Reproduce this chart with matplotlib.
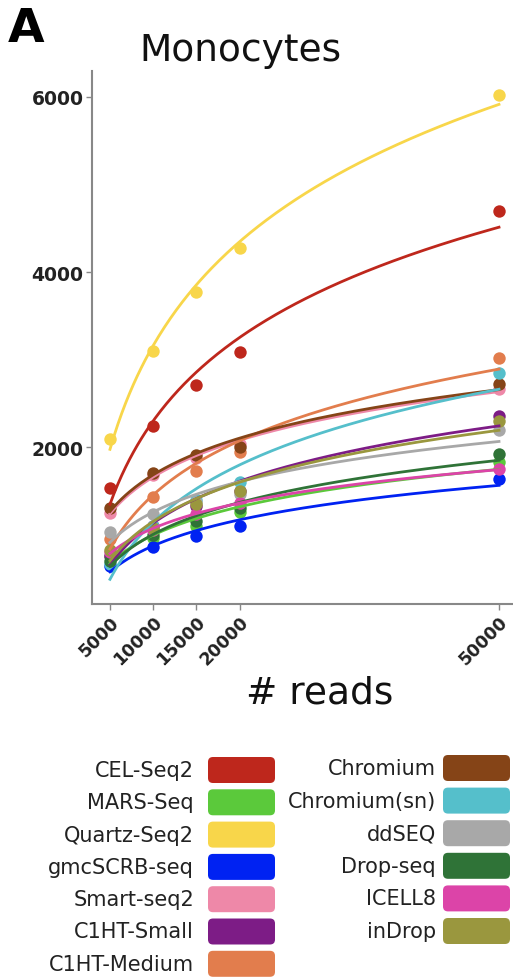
import numpy as np
import matplotlib.pyplot as plt
from matplotlib.patches import FancyBboxPatch

# reads per cell (x) and detected genes (y)
reads = [5000, 10000, 15000, 20000, 50000]

methods = ['CEL-Seq2', 'MARS-Seq', 'Quartz-Seq2', 'gmcSCRB-seq', 'Smart-seq2',
           'C1HT-Small', 'C1HT-Medium', 'Chromium', 'Chromium(sn)', 'ddSEQ',
           'Drop-seq', 'ICELL8', 'inDrop']
colors = ['#BE271C', '#5BC93B', '#F8D64A', '#0022F2', '#EE88A8',
          '#7D1C86', '#E27D4D', '#854417', '#55BFCB', '#A8A8A8',
          '#2F7337', '#DC44A8', '#9A973E']

cel_seq2 = [1530, 2240, 2710, 3085, 4700]
mars_seq = [760, 960, 1100, 1260, 1830]
quartz_seq2 = [2090, 3100, 3770, 4270, 6020]
gmcscrb_seq = [640, 860, 985, 1100, 1635]
smart_seq2 = [1250, 1680, 1880, 2040, 2660]
c1ht_small = [760, 1100, 1330, 1500, 2355]
c1ht_medium = [950, 1430, 1725, 1940, 3020]
chromium = [1300, 1700, 1910, 2000, 2720]
chromium_sn = [660, 1100, 1400, 1600, 2850]
ddseq = [1030, 1235, 1370, 1460, 2200]
drop_seq = [700, 1000, 1150, 1300, 1920]
icell8 = [800, 1050, 1235, 1360, 1750]
indrop = [820, 1080, 1350, 1500, 2300]

genes = [cel_seq2, mars_seq, quartz_seq2, gmcscrb_seq, smart_seq2, c1ht_small,
         c1ht_medium, chromium, chromium_sn, ddseq, drop_seq, icell8, indrop]

W, H = 513, 979
fig = plt.figure(figsize=(W / 100, H / 100), dpi=100)
ax = fig.add_axes([92 / W, 1 - 605 / H, (W - 92) / W, (605 - 72) / H])

x = np.array(reads, dtype=float)
xs = np.linspace(x.min(), x.max(), 200)
for y, c in zip(genes, colors):
    y = np.array(y, dtype=float)
    b, a = np.polyfit(np.log(x), y, 1)  # y ~ log(x) fit
    ax.scatter(x, y, s=80, color=c, zorder=2, linewidths=0)
    ax.plot(xs, a + b * np.log(xs), color=c, lw=2.0, zorder=3)

ax.set_xlim(2920, 51620)
ax.set_ylim(206, 6297)
ax.set_xticks(reads)
ax.set_yticks([2000, 4000, 6000])
ax.set_xticklabels([str(r) for r in reads], rotation=45, ha='right', va='top',
                   rotation_mode='anchor', fontsize=12.5, fontweight='bold', color='#222222')
ax.set_yticklabels(['2000', '4000', '6000'], fontsize=13.5, fontweight='bold', color='#222222')
ax.tick_params(length=4, width=1, color='#888888', pad=2)
for s in ['top', 'right']:
    ax.spines[s].set_visible(False)
for s in ['left', 'bottom']:
    ax.spines[s].set_color('#888888')
    ax.spines[s].set_linewidth(1.5)

fig.text(240 / W, 1 - 51 / H, 'Monocytes', fontsize=27, ha='center', va='center', color='#111111')
fig.text(8 / W, 1 - 30 / H, 'A', fontsize=34, fontweight='bold', ha='left', va='center')
fig.text(320 / W, 1 - 694 / H, '# reads', fontsize=27, ha='center', va='center', color='#111111')

# legend, two columns of labels with rounded colour keys
lg = fig.add_axes([0, 0, 1, 1])
lg.set_xlim(0, W)
lg.set_ylim(H, 0)
lg.axis('off')
ncol1 = 7
for i, (m, c) in enumerate(zip(methods, colors)):
    col, row = divmod(i, ncol1)
    if col == 0:
        kx, tx, yc = 208, 194, 771 + row * 32.3
    else:
        kx, tx, yc = 443, 436, 769 + row * 32.6
    lg.add_patch(FancyBboxPatch((kx, yc - 13), 67, 26,
                                boxstyle='round,pad=0,rounding_size=5',
                                fc=c, ec='none'))
    lg.text(tx, yc, m, fontsize=15, ha='right', va='center', color='#222222')

fig.savefig('out.png', dpi=100)
